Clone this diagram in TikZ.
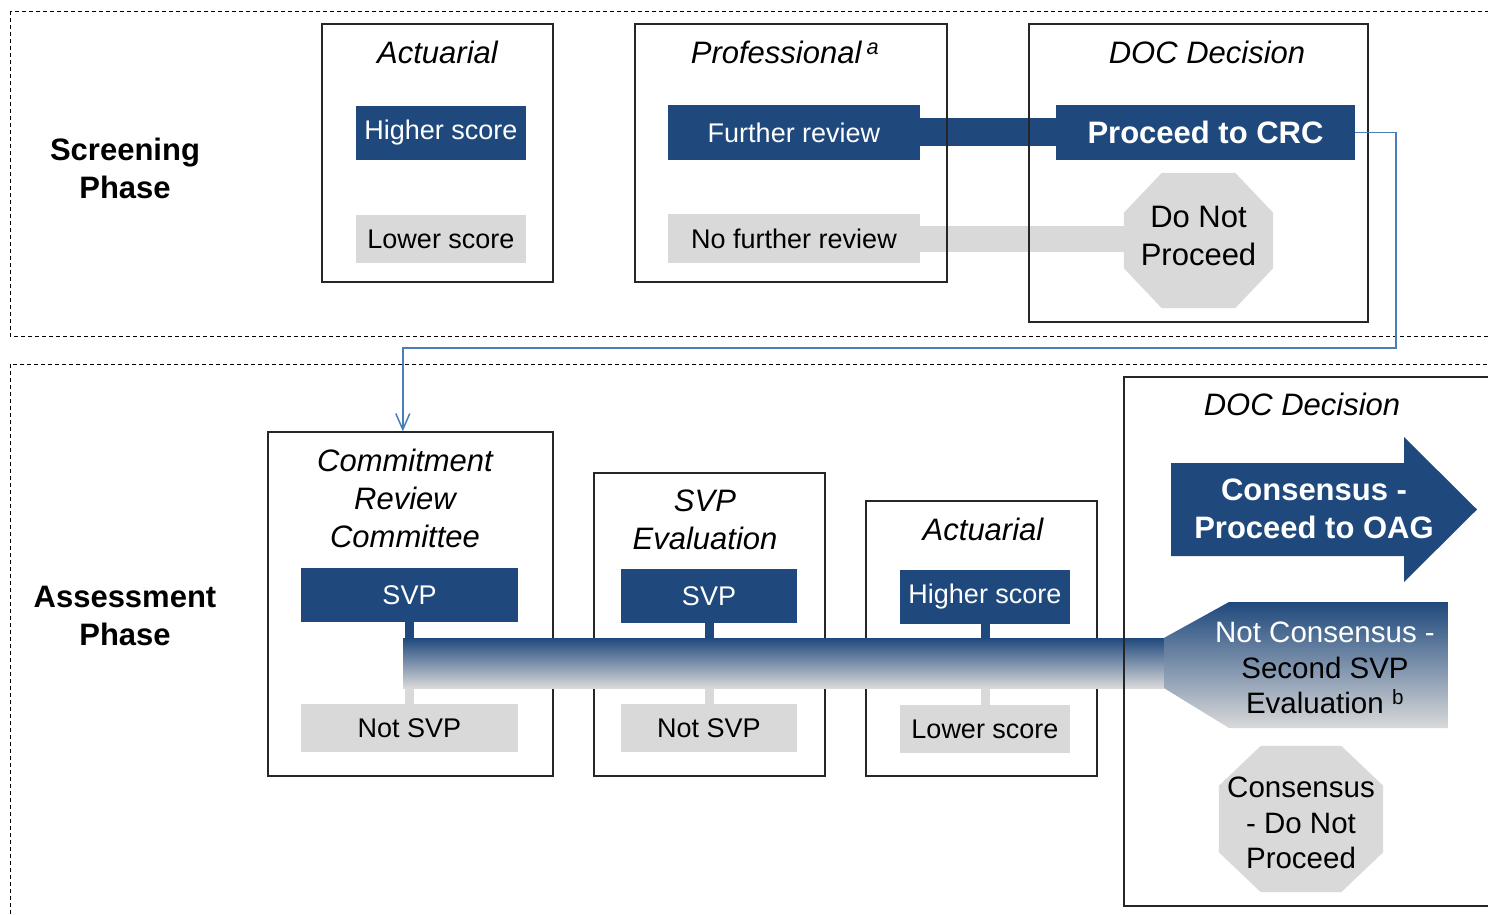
\documentclass[tikz,border=0pt]{standalone}
\usepackage{fontspec}
\setmainfont{Liberation Sans}
\usetikzlibrary{arrows.meta}

\definecolor{navy}{HTML}{1F497D}
\definecolor{lgray}{HTML}{D9D9D9}
\definecolor{linkblue}{HTML}{4A7EBB}

\begin{document}
\begin{tikzpicture}[x=1pt,y=-1pt,>={Straight Barb[length=16pt,width=14pt]},
	phaselabel/.style={align=center,font=\fontsize{31}{38}\selectfont\bfseries},
	panel/.style={draw=black!85,line width=1.2,inner sep=0},
	paneltitle/.style={align=center,font=\fontsize{31}{38}\selectfont\itshape},
	hibox/.style={fill=navy,text=white,inner sep=0,font=\fontsize{27}{32}\selectfont},
	lobox/.style={fill=lgray,text=black,inner sep=0,font=\fontsize{27}{32}\selectfont},
	stopsign/.style={inner sep=0},
	stoptext/.style 2 args={align=center,font=\fontsize{#1}{#2}\selectfont},
	phasebox/.style={draw=black,dash pattern=on 4pt off 3pt,line width=0.9},
	navylink/.style={draw=navy},
	graylink/.style={draw=lgray},
	bluelink/.style={->,draw=linkblue,line width=1.5}]

	\clip (0,0) rectangle (1488,915);

	\draw [phasebox]	(10,11) rectangle (1520,336);
	\draw [phasebox]	(10,364) rectangle (1520,940);

	% screening phase
	\node [phaselabel]	(screen)	at (125,168)	{Screening\\Phase};

	\node [hibox, minimum width=170, minimum height=54]	(high1)		at (441,133)		{Higher score};
	\node [lobox, minimum width=170, minimum height=48]	(low1)		at (441,239)		{Lower score};
	\node [hibox, minimum width=252, minimum height=55]	(further)	at (794,132.5)		{Further review};
	\node [lobox, minimum width=252, minimum height=49]	(nofurther)	at (794,238.5)		{No further review};
	\node [hibox, minimum width=299, minimum height=55, font=\fontsize{31}{38}\selectfont\bfseries]
														(crc)		at (1205.5,132.5)	{Proceed to CRC};
	\node [stopsign, minimum width=149, minimum height=135]	(dnp)	at (1198.5,240.5)	{};
	\node [stopsign, minimum width=164, minimum height=146]	(cdnp)	at (1301,819)		{};

	% octagons
	\foreach \oct/\cx/\cy in {dnp/38/40, cdnp/42/40}
		\fill [lgray] ([xshift=\cx pt]\oct.north west) -- ([xshift=-\cx pt]\oct.north east)
			-- ([yshift=-\cy pt]\oct.north east) -- ([yshift=\cy pt]\oct.south east)
			-- ([xshift=-\cx pt]\oct.south east) -- ([xshift=\cx pt]\oct.south west)
			-- ([yshift=\cy pt]\oct.south west) -- ([yshift=-\cy pt]\oct.north west) -- cycle;
	\node [stoptext={31}{38}]	(dnptext)	at (1198.5,236)	{Do Not\\Proceed};

	\draw [navylink, line width=28]	(further.east)		-- (crc.west);
	\draw [graylink, line width=26]	(nofurther.east)	-- (nofurther.east -| dnp.west);

	\node [panel, minimum width=231, minimum height=258]	(act1)	at (437.5,153)		{};
	\node [panel, minimum width=312, minimum height=258]	(prof)	at (791,153)		{};
	\node [panel, minimum width=339, minimum height=298]	(doc1)	at (1198.5,173)		{};
	\node [paneltitle]	(act1title)		at (437.5,52)	{Actuarial};
	\node [paneltitle]	(proftitle)		at (785,52)		{Professional\,\textsuperscript{a}};
	\node [paneltitle]	(doc1title)		at (1207,52)	{DOC Decision};

	% assessment phase
	\node [phaselabel]	(assess)	at (125,616)	{Assessment\\Phase};

	\node [panel, minimum width=285, minimum height=344]	(crcpanel)	at (410.5,604)		{};
	\node [panel, minimum width=231, minimum height=303]	(svpeval)	at (709.5,624.5)	{};
	\node [panel, minimum width=231, minimum height=275]	(act2)		at (981.5,638.5)	{};
	\node [paneltitle]	(crctitle)		at (405,498.5)	{Commitment\\Review\\Committee};
	\node [paneltitle]	(svptitle)		at (705,519.5)	{SVP\\Evaluation};
	\node [paneltitle]	(act2title)		at (983,529)	{Actuarial};

	\node [hibox, minimum width=217, minimum height=54]	(svp1)		at (409.5,595)	{SVP};
	\node [lobox, minimum width=217, minimum height=48]	(notsvp1)	at (409.5,728)	{Not SVP};
	\node [hibox, minimum width=176, minimum height=54]	(svp2)		at (709,596)	{SVP};
	\node [lobox, minimum width=176, minimum height=48]	(notsvp2)	at (709,728)	{Not SVP};
	\node [hibox, minimum width=170, minimum height=54]	(high2)		at (985,597)	{Higher score};
	\node [lobox, minimum width=170, minimum height=48]	(low2)		at (985,729)	{Lower score};

	\node [inner sep=0, minimum width=761, minimum height=50, top color=navy, bottom color=lgray]
														(bar)		at (783.5,663)	{};
	\shade [top color=navy, bottom color=lgray]
		(bar.north east) -- (1229,602) -- (1448,602) -- (1448,728) -- (1229,728) -- (bar.south east) -- cycle;
	\node [stoptext={29.5}{35.5}]	(notcons)	at (1325,668)
		{\textcolor{white}{Not Consensus -}\\Second SVP\\Evaluation \textsuperscript{b}};

	\foreach \up/\down in {svp1/notsvp1, svp2/notsvp2, high2/low2} {
		\draw [navylink, line width=9]	(\up.south)				-- (\up.south |- bar.north);
		\draw [graylink, line width=9]	(\down.north |- bar.south)	-- (\down.north);
	}

	\node [panel, minimum width=396, minimum height=529]	(doc2)	at (1322,641.5)	{};
	\node [paneltitle]	(doc2title)		at (1302,404)	{DOC Decision};

	\fill [navy] (1171,463) -- (1404,463) -- (1404,437) -- (1477,509.5) -- (1404,582) -- (1404,556) -- (1171,556) -- cycle;
	\node [align=center, text=white, font=\fontsize{31}{38}\selectfont\bfseries]
														(oag)		at (1314,509)	{Consensus -\\Proceed to OAG};

	\node [stoptext={29.5}{35.5}]	(cdnptext)	at (1301,823)	{Consensus\\- Do Not\\Proceed};

	\coordinate (turn) at (1396,348);
	\draw [bluelink]	(crc.east) -| (turn) -| (crcpanel.north -| bar.west);
\end{tikzpicture}
\end{document}
